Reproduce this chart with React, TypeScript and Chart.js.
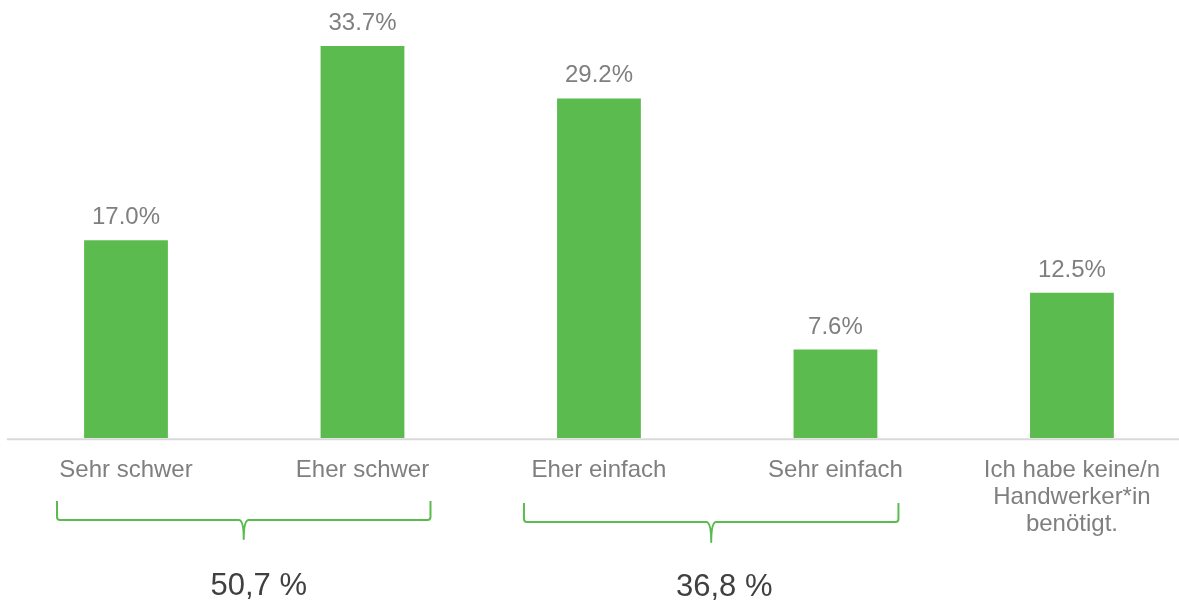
import { useEffect, useRef } from "react";
import { Chart, registerables } from "chart.js";

Chart.register(...registerables);

const categories: (string | string[])[] = [
  "Sehr schwer",
  "Eher schwer",
  "Eher einfach",
  "Sehr einfach",
  ["Ich habe keine/n", "Handwerker*in", "benötigt."],
];
const shares = [17.0, 33.7, 29.2, 7.6, 12.5];
const groupRanges = [
  [0, 1],
  [2, 3],
];
const groupTotals = ["50,7 %", "36,8 %"];

const FONT = '"Liberation Sans", Arial, sans-serif';
const GREEN = "#5cbb4f";

const braceStyles = [
  { padL: 69, padR: 68, top: 501, mid: 520, tip: 539, textDx: 15, textY: 595 },
  { padL: 75, padR: 63, top: 503, mid: 522, tip: 542, textDx: 13, textY: 596 },
];

const baselinePlugin = {
  id: "baseline",
  beforeDatasetsDraw(chart: any) {
    const ctx = chart.ctx;
    const y = chart.scales.y.getPixelForValue(0) + 1.2;
    ctx.save();
    ctx.strokeStyle = "#d9d9d9";
    ctx.lineWidth = 2;
    ctx.beginPath();
    ctx.moveTo(7, y);
    ctx.lineTo(chart.width, y);
    ctx.stroke();
    ctx.restore();
  },
};

const valueLabelPlugin = {
  id: "valueLabels",
  afterDatasetsDraw(chart: any) {
    const ctx = chart.ctx;
    const meta = chart.getDatasetMeta(0);
    ctx.save();
    ctx.font = `24px ${FONT}`;
    ctx.fillStyle = "#7f7f7f";
    ctx.textAlign = "center";
    ctx.textBaseline = "alphabetic";
    meta.data.forEach((bar: any, i: number) => {
      ctx.fillText(`${shares[i].toFixed(1)}%`, bar.x, bar.y - 16);
    });
    ctx.restore();
  },
};

const bracePlugin = {
  id: "braces",
  afterDraw(chart: any) {
    const ctx = chart.ctx;
    const xs = chart.scales.x;
    ctx.save();
    groupRanges.forEach((range, gi) => {
      const st = braceStyles[gi];
      const L = xs.getPixelForValue(range[0]) - st.padL;
      const R = xs.getPixelForValue(range[1]) + st.padR;
      const T = (L + R) / 2;
      const r = 3;
      ctx.strokeStyle = GREEN;
      ctx.lineWidth = 2;
      ctx.lineJoin = "round";
      ctx.beginPath();
      ctx.moveTo(L, st.top);
      ctx.lineTo(L, st.mid - r);
      ctx.quadraticCurveTo(L, st.mid, L + r, st.mid);
      ctx.lineTo(T - 5, st.mid);
      ctx.quadraticCurveTo(T, st.mid, T, st.tip);
      ctx.quadraticCurveTo(T, st.mid, T + 5, st.mid);
      ctx.lineTo(R - r, st.mid);
      ctx.quadraticCurveTo(R, st.mid, R, st.mid - r);
      ctx.lineTo(R, st.top);
      ctx.stroke();

      ctx.font = `31px ${FONT}`;
      ctx.fillStyle = "#404040";
      ctx.textAlign = "center";
      ctx.textBaseline = "alphabetic";
      ctx.fillText(groupTotals[gi], T + st.textDx, st.textY);
    });
    ctx.restore();
  },
};

export default function App() {
  const canvasRef = useRef<HTMLCanvasElement | null>(null);

  useEffect(() => {
    if (!canvasRef.current) return;
    const chart = new Chart(canvasRef.current, {
      type: "bar",
      data: {
        labels: categories as any,
        datasets: [
          {
            data: shares,
            backgroundColor: GREEN,
            categoryPercentage: 1,
            barPercentage: 0.3544,
            clip: false as any,
          },
        ],
      },
      options: {
        animation: false,
        responsive: false,
        devicePixelRatio: 1,
        layout: { padding: { left: 126, right: 103, top: 31, bottom: 0 } },
        plugins: {
          legend: { display: false },
          tooltip: { enabled: false },
          title: { display: false },
        },
        scales: {
          x: {
            offset: false,
            grid: { display: false, drawTicks: false },
            border: { display: false },
            ticks: {
              font: { family: FONT, size: 24, lineHeight: 1.12 },
              color: "#7f7f7f",
              padding: 19,
              maxRotation: 0,
              minRotation: 0,
              autoSkip: false,
            },
            afterFit: (scale: any) => {
              scale.height = 162;
            },
          },
          y: {
            display: false,
            min: 0,
            max: 35,
          },
        },
      },
      plugins: [baselinePlugin, valueLabelPlugin, bracePlugin],
    });
    return () => chart.destroy();
  }, []);

  return (
    <div style={{ position: "absolute", left: 0, top: 0, width: 1179, height: 600, overflow: "hidden" }}>
      <canvas ref={canvasRef} width={1179} height={600} style={{ display: "block" }} />
    </div>
  );
}
